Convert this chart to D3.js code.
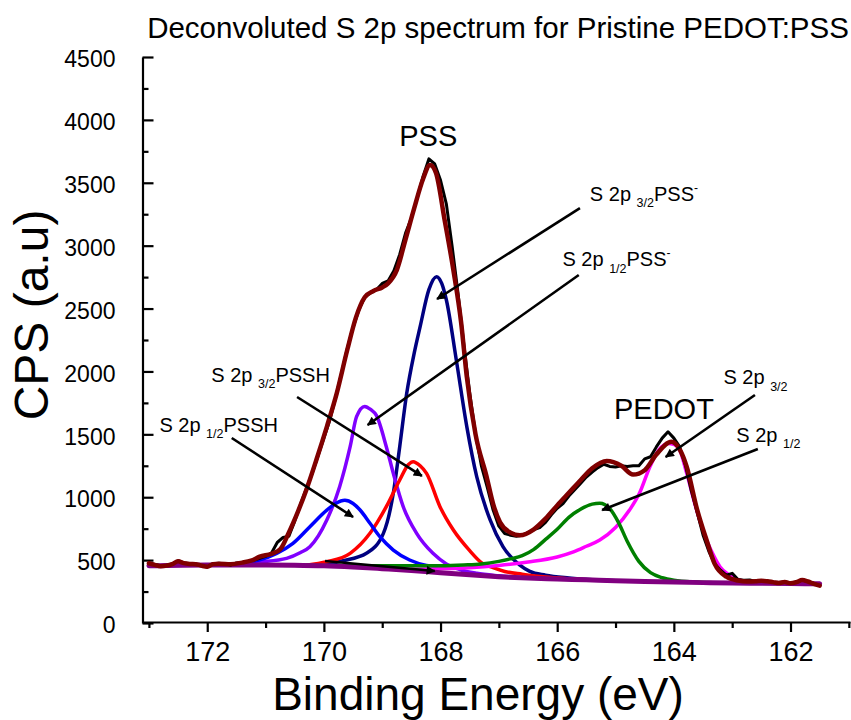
<!DOCTYPE html>
<html><head><meta charset="utf-8">
<script src="https://cdn.jsdelivr.net/npm/d3@7"></script>
<style>body{margin:0;background:#fff} text{font-family:"Liberation Sans",Arial,sans-serif;fill:#000}</style>
</head><body><svg id="c" width="851" height="720"></svg>
<script>
// ---------- DATA ----------
const xMajor = [172,170,168,166,164,162];
const xMinor = [173,171,169,167,165,163,161];
const yMajor = [0,500,1000,1500,2000,2500,3000,3500,4000,4500];
const yMinor = [250,750,1250,1750,2250,2750,3250,3750,4250];

const rawEnergy = [173.0,172.9,172.8,172.7,172.6,172.5,172.4,172.3,172.2,172.1,172.0,171.9,171.8,171.7,171.6,171.5,171.4,171.3,171.2,171.1,
171.0,170.9,170.8,170.7,170.6,170.5,170.4,170.3,170.2,170.1,170.0,169.9,169.8,169.7,169.6,169.5,169.4,169.3,169.2,169.1,
169.0,168.9,168.8,168.7,168.6,168.5,168.4,168.3,168.2,168.1,168.0,167.9,167.8,167.7,167.6,167.5,167.4,167.3,167.2,167.1,
167.0,166.9,166.8,166.7,166.6,166.5,166.4,166.3,166.2,166.1,166.0,165.9,165.8,165.7,165.6,165.5,165.4,165.3,165.2,165.1,
165.0,164.9,164.8,164.7,164.6,164.5,164.4,164.3,164.2,164.1,164.0,163.9,163.8,163.7,163.6,163.5,163.4,163.3,163.2,163.1,
163.0,162.9,162.8,162.7,162.6,162.5,162.4,162.3,162.2,162.1,162.0,161.9,161.8,161.7,161.6,161.5];
const rawCPS = [475,465,455,458,470,495,478,472,470,455,445,472,475,470,460,478,482,490,500,515,
530,555,640,680,690,810,945,1070,1190,1330,1470,1610,1790,1980,2180,2350,2490,2590,2625,2650,
2700,2720,2800,2930,3100,3220,3380,3550,3690,3650,3520,3330,2990,2620,2210,1830,1500,1250,1080,900,
770,712,698,690,698,718,742,758,800,860,912,950,1010,1060,1110,1160,1200,1235,1262,1245,
1240,1250,1245,1250,1250,1305,1322,1400,1470,1520,1470,1400,1250,1050,880,700,570,470,420,380,
395,345,340,342,330,334,335,325,318,328,316,325,342,330,315,297];

const envelope = [[173.0,475],[172.9,462],[172.8,452],[172.7,456],[172.6,468],[172.5,490],[172.4,476],[172.3,470],[172.2,468],[172.1,456],[172.0,448],[171.9,468],[171.8,472],[171.6,468],[171.4,480],[171.25,495],[171.1,527],[170.9,550],[170.75,585],[170.6,720],[170.45,880],[170.3,1060],[170.13,1296],[169.95,1560],[169.78,1826],[169.6,2170],[169.45,2430],[169.3,2590],[169.15,2640],[169.0,2668],[168.9,2700],[168.75,2806],[168.6,3050],[168.45,3300],[168.3,3530],[168.18,3641],[168.08,3580],[167.93,3204],[167.78,2806],[167.65,2400],[167.55,1958],[167.4,1500],[167.21,1163],[167.1,950],[166.98,800],[166.8,718],[166.64,698],[166.4,745],[166.2,830],[166.0,935],[165.8,1035],[165.6,1135],[165.4,1230],[165.15,1288],[164.9,1250],[164.7,1180],[164.5,1215],[164.3,1340],[164.04,1441],[163.9,1380],[163.78,1243],[163.6,900],[163.44,660],[163.3,470],[163.1,368],[162.9,338],[162.75,330],[162.6,332],[162.5,336],[162.4,332],[162.3,325],[162.2,318],[162.1,326],[162.0,316],[161.9,325],[161.8,342],[161.7,330],[161.6,312],[161.5,297]];

const background = [[173,455],[172,462],[171,462],[170.5,460],[170,455],[169.5,445],[169,432],[168.5,418],[168,400],[167.5,383],[167,368],[166.5,357],[166,350],[165.5,343],[165,336],[164.5,330],[164,325],[163.5,321],[163,318],[162.5,316],[162,314],[161.5,312]];

const pssh12 = [[171.6,462],[171.3,480],[171.1,502],[170.81,554],[170.53,634],[170.24,766],[169.95,898],[169.8,950],[169.64,975],[169.5,950],[169.38,898],[169.21,793],[169.04,686],[168.81,580],[168.53,501],[168.24,458],[168.0,448],[167.7,440]];
const pss12 = [[171.6,462],[171.1,485],[170.64,514],[170.4,560],[170.24,607],[169.95,819],[169.73,1084],[169.55,1402],[169.44,1640],[169.3,1722],[169.2,1698],[169.1,1650],[168.93,1402],[168.81,1190],[168.64,925],[168.41,713],[168.13,554],[167.9,470],[167.67,425],[167.38,395],[167.0,375],[166.6,361]];
const pssh32 = [[170.3,460],[169.95,487],[169.55,554],[169.21,713],[168.93,925],[168.7,1137],[168.55,1260],[168.47,1283],[168.35,1250],[168.24,1190],[168.01,925],[167.78,739],[167.5,575],[167.3,480],[167.1,440],[166.9,410],[166.6,388],[166.2,365],[165.8,352],[165.4,342]];
const pss32 = [[170.3,458],[169.67,495],[169.27,554],[168.98,713],[168.81,1031],[168.7,1402],[168.58,1826],[168.45,2150],[168.35,2356],[168.2,2650],[168.07,2753],[167.98,2700],[167.9,2568],[167.73,2091],[167.55,1561],[167.38,1163],[167.15,819],[166.93,607],[166.64,460],[166.47,410],[166.2,380],[165.8,358],[165.4,344],[165.0,336]];
const pedot12 = [[170.8,460],[170.0,458],[169.5,456],[169.0,455],[168.5,455],[168.0,456],[167.6,462],[167.3,470],[167.0,490],[166.8,510],[166.6,535],[166.4,585],[166.2,665],[166.0,745],[165.8,840],[165.6,905],[165.4,945],[165.27,952],[165.1,910],[164.95,800],[164.8,650],[164.6,490],[164.4,400],[164.2,360],[164.0,340],[163.6,325],[163.2,319]];
const pedot32 = [[168.5,428],[168.0,432],[167.5,440],[167.0,458],[166.5,485],[166.0,525],[165.72,565],[165.5,610],[165.27,660],[165.0,760],[164.76,898],[164.59,1031],[164.41,1243],[164.25,1380],[164.1,1428],[164.0,1420],[163.9,1375],[163.78,1190],[163.61,898],[163.44,660],[163.3,520],[163.21,448],[163.05,380],[162.9,345],[162.7,326],[162.5,317]];

const titleText = "Deconvoluted S 2p spectrum for Pristine PEDOT:PSS";
const xTitle = "Binding Energy (eV)";
const yTitle = "CPS (a.u)";
const peakNames = ["PSS","PEDOT"];
const compLabels = [
  {main:"S 2p ", sub:"3/2", tail:"PSS", sup:"-"},
  {main:"S 2p ", sub:"1/2", tail:"PSS", sup:"-"},
  {main:"S 2p ", sub:"3/2", tail:"PSSH", sup:""},
  {main:"S 2p ", sub:"1/2", tail:"PSSH", sup:""},
  {main:"S 2p ", sub:"3/2", tail:"", sup:""},
  {main:"S 2p ", sub:"1/2", tail:"", sup:""}
];

// ---------- LAYOUT (annotation anchors in data units) ----------
const peakNamePos = [[168.21,3792],[164.17,1622]];
const compLabelPos = [[165.44,3357],[165.91,2838],[171.93,1918],[172.82,1521],[163.15,1900],[162.93,1441]];
const arrowPos = [
  [[165.61,3299],[168.06,2576]],
  [[165.63,2767],[169.25,1574]],
  [[170.46,1797],[168.32,1169]],
  [[171.58,1471],[169.50,843]],
  [[162.61,1813],[164.14,1320]],
  [[162.56,1383],[165.23,898]],
  [[169.98,493],[168.10,413]]
];

// ---------- CHART ----------
const svg = d3.select("#c");
const x = d3.scaleLinear().domain([173.11,160.98]).range([142.5,850]);
const y = d3.scaleLinear().domain([0,4500]).range([623,57]);
const FONT = '"Liberation Sans",Arial,sans-serif';

// axes
const gx = svg.append("g").attr("transform","translate(0,622)")
  .call(d3.axisBottom(x).tickValues(xMajor).tickSizeInner(10).tickSizeOuter(0).tickPadding(10).tickFormat(d3.format("d")));
gx.selectAll(".domain,.tick line").attr("stroke","#000").attr("stroke-width",2.2);
gx.selectAll("text").attr("font-size",27).attr("font-family",FONT);
const gxm = svg.append("g").attr("transform","translate(0,622)")
  .call(d3.axisBottom(x).tickValues(xMinor).tickSizeInner(6).tickSizeOuter(0).tickFormat(""));
gxm.select(".domain").remove();
gxm.selectAll(".tick line").attr("stroke","#000").attr("stroke-width",2.2);

const gy = svg.append("g").attr("transform","translate(142.5,0)")
  .call(d3.axisLeft(y).tickValues(yMajor).tickSizeInner(-11).tickSizeOuter(0).tickPadding(27).tickFormat(d3.format("d")));
gy.selectAll(".domain,.tick line").attr("stroke","#000").attr("stroke-width",2.2);
gy.selectAll("text").attr("font-size",23).attr("font-family",FONT).attr("dy","0.42em");
const gym = svg.append("g").attr("transform","translate(142.5,0)")
  .call(d3.axisLeft(y).tickValues(yMinor).tickSizeInner(-6).tickSizeOuter(0).tickFormat(""));
gym.select(".domain").remove();
gym.selectAll(".tick line").attr("stroke","#000").attr("stroke-width",2.2);

// titles
svg.append("text").attr("x",498).attr("y",38).attr("text-anchor","middle").attr("font-size",29.5).text(titleText);
svg.append("text").attr("x",478).attr("y",710).attr("text-anchor","middle").attr("font-size",46).text(xTitle);
svg.append("text").attr("transform","translate(48,315) rotate(-90)").attr("text-anchor","middle").attr("font-size",48).text(yTitle);

// curves
const smooth = d3.line().x(d=>x(d[0])).y(d=>y(d[1])).curve(d3.curveMonotoneX);
const plot = svg.append("g").attr("fill","none").attr("stroke-linejoin","round").attr("stroke-linecap","round");
const comps = [[pss32,"#000080"],[pss12,"#8000FF"],[pssh32,"#FF0000"],[pssh12,"#0000FF"],[pedot32,"#FF00FF"],[pedot12,"#008000"]];
comps.forEach(([d,c])=>plot.append("path").attr("d",smooth(d)).attr("stroke",c).attr("stroke-width",3.5));
plot.append("path").attr("d",smooth(background)).attr("stroke","#800080").attr("stroke-width",5);
const rawPts = rawEnergy.map((e,i)=>[e,rawCPS[i]]);
plot.append("path").attr("d",d3.line().x(d=>x(d[0])).y(d=>y(d[1]))(rawPts)).attr("stroke","#000").attr("stroke-width",3);
plot.append("path").attr("d",smooth(envelope)).attr("stroke","#800000").attr("stroke-width",4.5);

// arrows
svg.append("defs").append("marker").attr("id","ah").attr("viewBox","0 0 10 10")
  .attr("refX",9).attr("refY",5).attr("markerWidth",15).attr("markerHeight",9)
  .attr("markerUnits","userSpaceOnUse").attr("orient","auto")
  .append("path").attr("d","M0,0L10,5L0,10z").attr("fill","#000");
arrowPos.forEach(([a,b])=>{
  svg.append("line").attr("x1",x(a[0])).attr("y1",y(a[1])).attr("x2",x(b[0])).attr("y2",y(b[1]))
    .attr("stroke","#000").attr("stroke-width",2.6).attr("marker-end","url(#ah)");
});

// labels
peakNames.forEach((n,i)=>{
  svg.append("text").attr("x",x(peakNamePos[i][0])).attr("y",y(peakNamePos[i][1])).attr("text-anchor","middle").attr("font-size",29).text(n);
});
compLabels.forEach((l,i)=>{
  const t = svg.append("text").attr("x",x(compLabelPos[i][0])).attr("y",y(compLabelPos[i][1])).attr("font-size",20);
  t.append("tspan").text(l.main);
  t.append("tspan").attr("font-size",12.5).attr("dy",6.5).text(l.sub);
  if (l.tail) t.append("tspan").attr("dy",-6.5).text(l.tail);
  if (l.sup) t.append("tspan").attr("font-size",12).attr("dy",-9).text(l.sup);
});
</script></body></html>
